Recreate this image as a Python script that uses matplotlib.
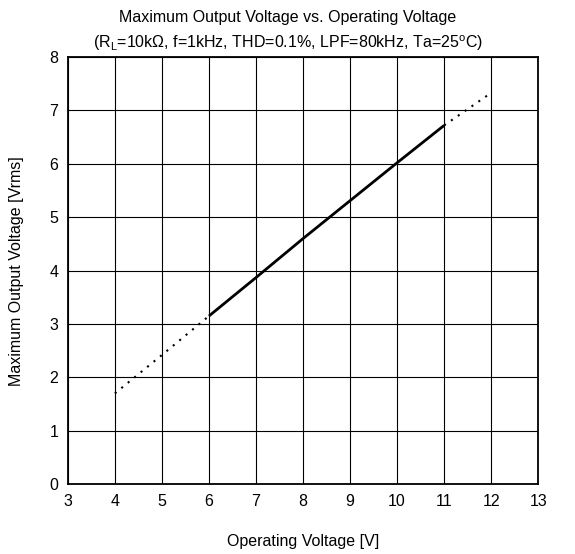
import numpy as np
import matplotlib.pyplot as plt

plt.rcParams['font.family'] = ['Liberation Sans', 'DejaVu Sans']
plt.rcParams['mathtext.fontset'] = 'custom'
plt.rcParams['mathtext.rm'] = 'Liberation Sans'

# measured curve: dotted outside 6..11 V, solid inside
vcc_low = [4, 5, 6]
vout_low = [1.70, 2.42, 3.15]
vcc_mid = [6, 7, 8, 9, 10, 11]
vout_mid = [3.15, 3.87, 4.60, 5.31, 6.02, 6.72]
vcc_high = [11, 12]
vout_high = [6.72, 7.33]

fs = 11.5

fig = plt.figure(figsize=(5.75, 5.54), dpi=100)
ax = fig.add_axes([0.118, 0.126, 0.818, 0.771])

ax.plot(vcc_low, vout_low, color='black', lw=1.5, ls=(0, (1, 3)))
ax.plot(vcc_mid, vout_mid, color='black', lw=2.0, solid_capstyle='butt')
ax.plot(vcc_high, vout_high, color='black', lw=1.5, ls=(0, (1, 3)))

ax.set_xlim(3, 13)
ax.set_ylim(0, 8)
ax.set_xticks(np.arange(3, 14, 1))
ax.set_yticks(np.arange(0, 9, 1))
ax.grid(True, color='black', lw=0.8)
ax.tick_params(length=0, labelsize=fs, pad=7)
for s in ax.spines.values():
    s.set_linewidth(1.3)

ax.set_xlabel('Operating Voltage [V]', fontsize=fs, labelpad=18)
ax.set_ylabel('Maximum Output Voltage [Vrms]', fontsize=fs, labelpad=18)

fig.text(0.5, 0.969, 'Maximum Output Voltage vs. Operating Voltage',
         ha='center', va='center', fontsize=fs)
fig.text(0.5, 0.922,
         r'(R$_\mathregular{L}$=10kΩ, f=1kHz, THD=0.1%, LPF=80kHz, Ta=25$^\mathregular{o}$C)',
         ha='center', va='center', fontsize=fs)

fig.savefig('out.png', dpi=100)
